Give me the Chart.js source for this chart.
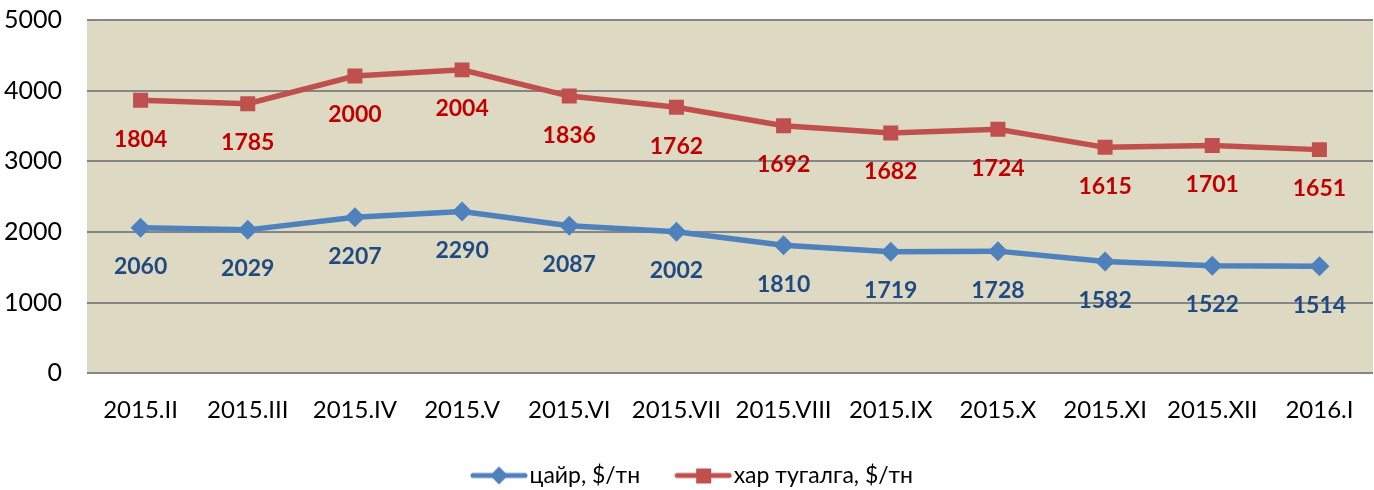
<!DOCTYPE html>
<html>
<head>
<meta charset="utf-8">
<script src="https://cdn.jsdelivr.net/npm/chart.js@4.4.1/dist/chart.umd.min.js"></script>
<style>
  html,body{margin:0;padding:0;background:#fff;overflow:hidden;}
  #wrap{width:1374px;height:490px;position:relative;}
</style>
</head>
<body>
<div id="wrap"><canvas id="priceChart" width="1374" height="490"></canvas></div>
<script>
/* ============ DATA ============ */
const months = ['2015.II','2015.III','2015.IV','2015.V','2015.VI','2015.VII','2015.VIII','2015.IX','2015.X','2015.XI','2015.XII','2016.I'];
const oreValues = [2060,2029,2207,2290,2087,2002,1810,1719,1728,1582,1522,1514];
const cathodeValues = [1804,1785,2000,2004,1836,1762,1692,1682,1724,1615,1701,1651];
const yTicks = [0,1000,2000,3000,4000,5000];

const FONT = "Lato, 'Noto Sans', sans-serif";
const BLUE = '#4F81BD', RED = '#C0504D';

// icon chú giải: đường + điểm (lệch phải để sát chữ)
function legendIcon(color, shape){
  const c=document.createElement('canvas'); c.width=80; c.height=22;
  const g=c.getContext('2d');
  g.strokeStyle=color; g.lineWidth=5; g.lineCap='round';
  g.beginPath(); g.moveTo(24,11); g.lineTo(76,11); g.stroke();
  g.fillStyle=color; g.beginPath();
  if(shape==='diamond'){ g.moveTo(50,2); g.lineTo(59,11); g.lineTo(50,20); g.lineTo(41,11); g.closePath(); }
  else { g.rect(43,4,15,15); }
  g.fill();
  return c;
}

// nền vùng vẽ
const plotBg = {
  id:'plotBg',
  beforeDraw(chart){
    const {ctx, chartArea:a} = chart;
    ctx.save(); ctx.fillStyle='#DDD9C3';
    ctx.fillRect(a.left, a.top, a.right-a.left, a.bottom-a.top);
    ctx.restore();
  }
};

// nhãn giá trị dưới mỗi điểm
const valueLabels = {
  id:'valueLabels',
  afterDatasetsDraw(chart){
    const ctx = chart.ctx;
    ctx.save();
    ctx.font = 'bold 23px ' + FONT;
    ctx.textAlign='center'; ctx.textBaseline='middle';
    chart.data.datasets.forEach((ds,di)=>{
      const meta = chart.getDatasetMeta(di);
      ctx.fillStyle = ds.labelColor;
      meta.data.forEach((pt,i)=>{
        ctx.fillText(String(ds.data[i]), pt.x, pt.y + 39);
      });
    });
    ctx.restore();
  }
};

const ctx = document.getElementById('priceChart').getContext('2d');
new Chart(ctx, {
  type:'line',
  data:{
    labels: months,
    datasets:[
      {
        label:'цайр, $/тн', data: oreValues,
        borderColor:BLUE, backgroundColor:BLUE, borderWidth:5.5,
        pointStyle:'rectRot', pointRadius:10, pointHoverRadius:10,
        pointBackgroundColor:BLUE, pointBorderWidth:0,
        tension:0, fill:false, labelColor:'#1F4A82',
        legendIcon: legendIcon(BLUE,'diamond')
      },
      {
        label:'хар тугалга, $/тн', data: cathodeValues,
        borderColor:RED, backgroundColor:RED, borderWidth:5.5,
        pointStyle:'rect', pointRadius:10.6, pointHoverRadius:10.6,
        pointBackgroundColor:RED, pointBorderWidth:0,
        tension:0, fill:false, labelColor:'#C00000',
        legendIcon: legendIcon(RED,'square')
      }
    ]
  },
  options:{
    responsive:false,
    animation:false,
    layout:{ autoPadding:false, padding:{ top:20, right:1, left:0, bottom:-7 } },
    plugins:{
      legend:{
        position:'bottom',
        labels:{
          usePointStyle:true, pointStyleWidth:58, padding:24,
          color:'#000', font:{ family:FONT, size:23 },
          generateLabels(chart){
            return chart.data.datasets.map((ds,i)=>({
              text: ds.label, pointStyle: ds.legendIcon,
              fillStyle: ds.borderColor, strokeStyle: ds.borderColor,
              lineWidth:0, datasetIndex:i, hidden:false
            }));
          }
        }
      },
      tooltip:{ enabled:false }
    },
    scales:{
      x:{
        offset:true,
        grid:{ display:false },
        border:{ display:false },
        ticks:{ color:'#000', font:{ family:FONT, size:24 }, padding:15, maxRotation:0, autoSkip:false }
      },
      y:{
        stacked:true,
        min:0, max:5000,
        afterBuildTicks(scale){ scale.ticks = yTicks.map(v=>({value:v})); },
        afterFit(scale){ scale.width = 87; scale.paddingTop = 0; scale.paddingBottom = 0; },
        grid:{ color:'#868686', lineWidth:2, drawTicks:false },
        border:{ display:false },
        ticks:{ color:'#000', font:{ family:FONT, size:25 }, padding:25, callback:v=>String(v) }
      }
    }
  },
  plugins:[plotBg, valueLabels]
});
</script>
</body>
</html>
